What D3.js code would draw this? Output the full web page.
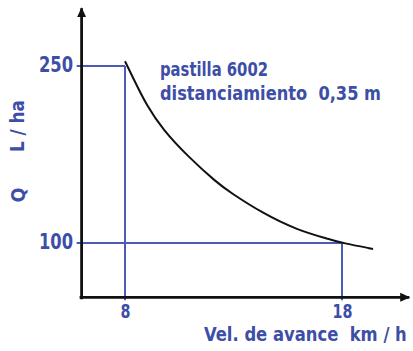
<!DOCTYPE html>
<html><head><meta charset="utf-8">
<script src="https://cdn.jsdelivr.net/npm/d3@7"></script>
<style>
html,body{margin:0;padding:0;background:#fff;}
svg text{font-family:"DejaVu Sans Condensed","DejaVu Sans",sans-serif;font-stretch:condensed;font-weight:bold;fill:#3d4ea6;white-space:pre;}
</style></head>
<body>
<svg id="c" width="413" height="351"></svg>
<script>
// data
const speed = [8, 8.37, 9.01, 9.75, 10.86, 12.24, 12.84, 14.36, 15.93, 17.45, 18, 19.43];
const flow  = [254, 240, 216, 196, 174, 151, 143, 125, 111, 103, 100, 95];
const xTicks = [8, 18];
const yTicks = [100, 250];
const xAxisLimits = [6, 21.1];
const yAxisLimits = [54, 299];
const xLabel = "Vel. de avance  km / h";
const yLabel1 = "Q";
const yLabel2 = "L / ha";
const note1 = "pastilla 6002";
const note2 = "distanciamiento  0,35 m";

const svg = d3.select("#c");
const x = d3.scaleLinear().domain([8, 18]).range([125, 342]);
const y = d3.scaleLinear().domain([100, 250]).range([243, 66]);
const blue = "#4a5bb8";
const x0 = x(xAxisLimits[0]), x1 = x(xAxisLimits[1]);
const y0 = y(yAxisLimits[0]), y1 = y(yAxisLimits[1]);

svg.append("defs").append("marker").attr("id","arr").attr("viewBox","0 0 10 10")
  .attr("refX",9).attr("refY",5).attr("markerWidth",3.6).attr("markerHeight",3.6)
  .attr("markerUnits","strokeWidth").attr("orient","auto")
  .append("path").attr("d","M0,0.5 L10,5 L0,9.5 Z").attr("fill","#111");

// guide lines
const g = svg.append("g");
xTicks.forEach((t,i)=>{
  const q = i===0 ? 250 : 100;
  g.append("line").attr("x1",x(t)).attr("x2",x(t)).attr("y1",y(q)).attr("y2",y0+3)
    .attr("stroke",blue).attr("stroke-width",2);
});
yTicks.forEach(t=>{
  const v = t===250 ? 8 : 18;
  g.append("line").attr("x1",x0-5).attr("x2",x(v)).attr("y1",y(t)).attr("y2",y(t))
    .attr("stroke",blue).attr("stroke-width",2);
});

// axes
svg.append("line").attr("x1",x0).attr("x2",x0).attr("y1",y0+2).attr("y2",y1)
  .attr("stroke","#111").attr("stroke-width",2.8).attr("marker-end","url(#arr)");
svg.append("line").attr("x1",x0-2).attr("x2",x1).attr("y1",y0).attr("y2",y0)
  .attr("stroke","#111").attr("stroke-width",2.8).attr("marker-end","url(#arr)");

// tick labels via d3 axes
const xa = svg.append("g").attr("transform",`translate(0,${y0})`)
  .call(d3.axisBottom(x).tickValues(xTicks).tickSize(0).tickPadding(0).tickFormat(d3.format("d")));
xa.select(".domain").remove();
xa.selectAll("text").attr("font-size",19).attr("font-family",null).attr("dy",null).attr("y",21)
  .attr("textLength",(d)=>d<10?10:20).attr("lengthAdjust","spacingAndGlyphs");
const ya = svg.append("g").attr("transform",`translate(73,0)`)
  .call(d3.axisLeft(y).tickValues(yTicks).tickSize(0).tickPadding(0).tickFormat(d3.format("d")));
ya.select(".domain").remove();
ya.selectAll("text").attr("font-size",21).attr("font-family",null).attr("dy","0.28em")
  .attr("textLength",34).attr("lengthAdjust","spacingAndGlyphs");

// curve
const pts = speed.map((v,i)=>[v, flow[i]]);
svg.append("path").datum(pts)
  .attr("d", d3.line().x(d=>x(d[0])).y(d=>y(d[1])).curve(d3.curveBasis))
  .attr("fill","none").attr("stroke","#111").attr("stroke-width",2);

// x label: horizontally compressed by a transform so it stays within the picture
const xl = svg.append("text").attr("font-size",19).text(xLabel);
const w = xl.node().getComputedTextLength();
const targetW = 203, sx = targetW / w;
xl.attr("transform",`translate(${407 - targetW},341) scale(${sx},1)`);

svg.append("text").attr("transform","translate(25,195) rotate(-90)").attr("text-anchor","middle")
  .attr("font-size",20).attr("textLength",15).attr("lengthAdjust","spacingAndGlyphs").text(yLabel1);
svg.append("text").attr("transform","translate(24,126) rotate(-90)").attr("text-anchor","middle")
  .attr("font-size",20).attr("textLength",52).attr("lengthAdjust","spacingAndGlyphs").text(yLabel2);
svg.append("text").attr("x",160).attr("y",76).attr("font-size",20)
  .attr("textLength",108).attr("lengthAdjust","spacingAndGlyphs").text(note1);
svg.append("text").attr("x",160).attr("y",100).attr("font-size",20)
  .attr("textLength",221).attr("lengthAdjust","spacingAndGlyphs").text(note2);
</script>
</body></html>
